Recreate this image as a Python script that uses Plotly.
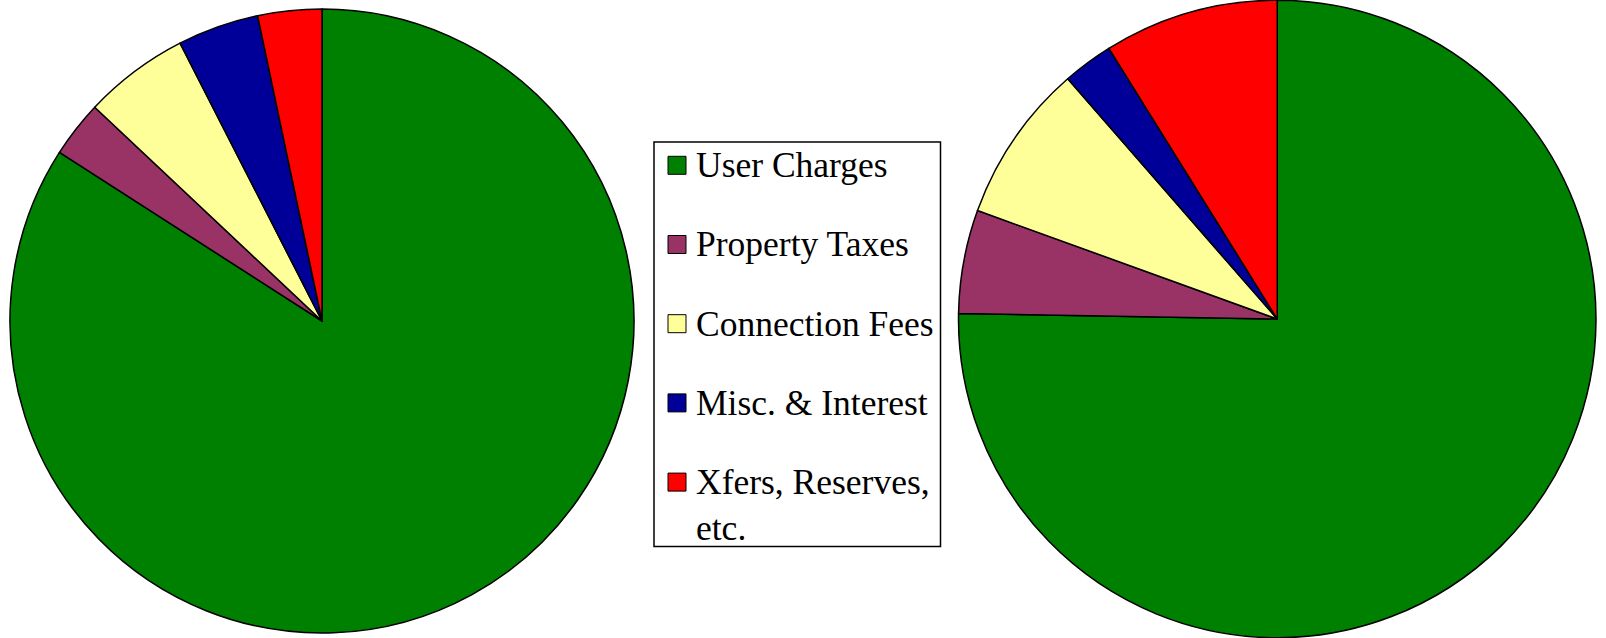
import plotly.graph_objects as go

# ---- data ----
categories = ["User Charges", "Property Taxes", "Connection Fees",
              "Misc. & Interest", "Xfers, Reserves, etc."]
legend_labels = ["User Charges", "Property Taxes", "Connection Fees",
                 "Misc. & Interest", "Xfers, Reserves,<br>etc."]
left_values = [84.1, 2.93, 5.47, 4.21, 3.31]
right_values = [75.3, 5.25, 8.06, 2.56, 8.86]
colors = ["#008000", "#993366", "#FFFF99", "#000099", "#FF0000"]

W, H = 1606, 638


def px_x(x):
    return x / W


def px_y(y):
    return 1 - y / H


fig = go.Figure()

common = dict(
    labels=categories,
    sort=False,
    direction="clockwise",
    rotation=0,
    textinfo="none",
    showlegend=False,
    marker=dict(colors=colors, line=dict(color="black", width=1.5)),
)

fig.add_trace(go.Pie(
    values=left_values,
    domain=dict(x=[px_x(10), px_x(634)], y=[px_y(633), px_y(9)]),
    **common,
))
fig.add_trace(go.Pie(
    values=right_values,
    domain=dict(x=[px_x(958.5), px_x(1596)], y=[0, 1]),
    **common,
))

# ---- legend (drawn manually to match the original boxed layout) ----
shapes = [dict(type="rect", xref="paper", yref="paper",
               x0=px_x(654), x1=px_x(940.5), y0=px_y(546.5), y1=px_y(142),
               line=dict(color="black", width=1.5), fillcolor="white", layer="above")]
annotations = []
row0, step = 165.3, 79.2
fs = 35.5
for i, (lab, col) in enumerate(zip(legend_labels, colors)):
    cy = row0 + i * step
    shapes.append(dict(type="rect", xref="paper", yref="paper",
                       x0=px_x(668), x1=px_x(686), y0=px_y(cy + 9), y1=px_y(cy - 9),
                       line=dict(color="black", width=1), fillcolor=col, layer="above"))
    annotations.append(dict(xref="paper", yref="paper", x=px_x(694),
                            y=px_y(cy - fs * 1.3 / 2 + 1),
                            xanchor="left", yanchor="top", align="left",
                            text=lab, showarrow=False,
                            font=dict(family="Liberation Serif", size=fs, color="black")))

fig.update_layout(
    width=W, height=H,
    margin=dict(l=0, r=0, t=0, b=0),
    paper_bgcolor="white", plot_bgcolor="white",
    shapes=shapes, annotations=annotations,
)

fig.write_html("out.html",
               config={"displayModeBar": False},
               post_script="document.body.style.margin='0px';document.body.style.overflow='hidden';")
